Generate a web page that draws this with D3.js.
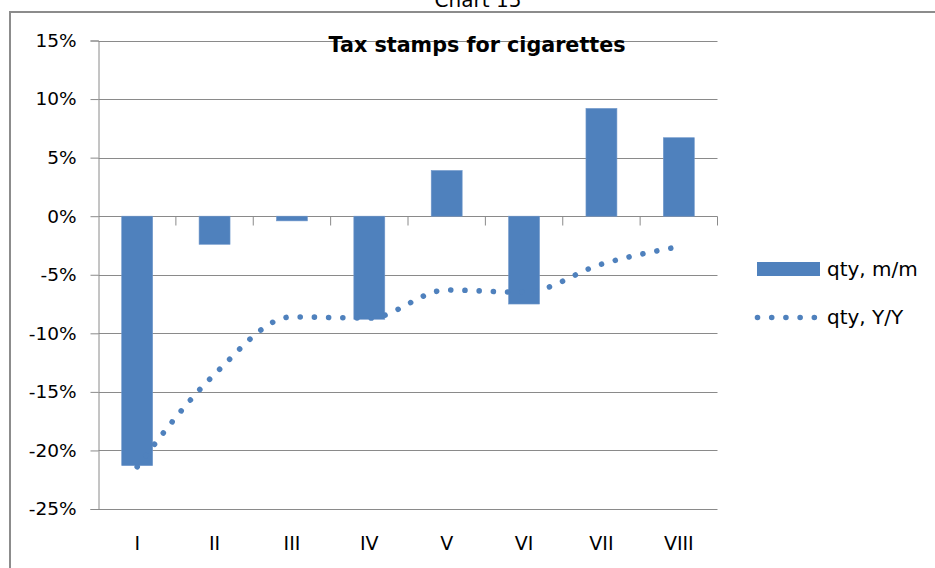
<!DOCTYPE html>
<html>
<head>
<meta charset="utf-8">
<script src="https://cdn.jsdelivr.net/npm/d3@7/dist/d3.min.js"></script>
<style>
  html, body { margin: 0; padding: 0; background: #fff; }
  svg { display: block; }
  text { font-family: "DejaVu Sans", Verdana, sans-serif; fill: #000; }
</style>
</head>
<body>
<svg id="chart" width="935" height="568"></svg>
<script>
// Monthly tax stamp figures, % change
const categories = ["I", "II", "III", "IV", "V", "VI", "VII", "VIII"];
const qtyMoM = [-21.3, -2.4, -0.4, -8.8, 3.9, -7.5, 9.2, 6.7];
const qtyYoY = [-21.4, -13.5, -8.6, -8.7, -6.3, -6.5, -4.1, -2.6];
const yTicks = [15, 10, 5, 0, -5, -10, -15, -20, -25];
const seriesNames = ["qty, m/m", "qty, Y/Y"];

const blue = "#4f81bd";
const grid = "#8a8a8a";

const svg = d3.select("#chart");

// outer frame
svg.append("path")
  .attr("d", "M10,568 V12 H935")
  .attr("fill", "none")
  .attr("stroke", "#8c8c8c")
  .attr("stroke-width", 2);

// caption above the frame (runs off the top edge)
svg.append("text")
  .attr("x", 478).attr("y", 7)
  .attr("text-anchor", "middle")
  .attr("font-size", 20)
  .text("Chart 15");

const plot = { left: 98.5, right: 717.5, top: 40.5, bottom: 509 };

const x = d3.scaleBand()
  .domain(categories)
  .range([plot.left, plot.right])
  .paddingInner(0.6)
  .paddingOuter(0.3);

const xCat = d3.scaleBand()
  .domain(categories)
  .range([plot.left, plot.right])
  .padding(0);

const y = d3.scaleLinear()
  .domain([-25, 15])
  .range([plot.bottom, plot.top]);

// horizontal gridlines
svg.append("g")
  .selectAll("line")
  .data(yTicks)
  .join("line")
  .attr("x1", plot.left).attr("x2", plot.right)
  .attr("y1", d => Math.round(y(d)) + 0.5)
  .attr("y2", d => Math.round(y(d)) + 0.5)
  .attr("stroke", grid)
  .attr("stroke-width", 1);

// value axis
const yAxis = d3.axisLeft(y)
  .tickValues(yTicks)
  .tickSize(8)
  .tickPadding(14)
  .tickFormat(d => d + "%");

const gy = svg.append("g")
  .attr("transform", `translate(${plot.left},0)`)
  .call(yAxis);
gy.select(".domain").attr("stroke", grid);
gy.selectAll(".tick line").attr("stroke", grid);
gy.selectAll(".tick text")
  .attr("font-size", 18.5)
  .attr("font-family", "DejaVu Sans, Verdana, sans-serif")
  .attr("fill", "#000");

// category axis along the zero line (ticks between categories)
const zeroY = Math.round(y(0)) + 0.5;
svg.append("g")
  .selectAll("line")
  .data(categories)
  .join("line")
  .attr("x1", d => xCat(d) + xCat.bandwidth())
  .attr("x2", d => xCat(d) + xCat.bandwidth())
  .attr("y1", zeroY)
  .attr("y2", zeroY + 9)
  .attr("stroke", grid)
  .attr("stroke-width", 1);

// category labels below the plot
svg.append("g")
  .selectAll("text")
  .data(categories)
  .join("text")
  .attr("x", d => xCat(d) + xCat.bandwidth() / 2)
  .attr("y", 550)
  .attr("text-anchor", "middle")
  .attr("font-size", 19)
  .text(d => d);

// m/m bars
svg.append("g")
  .selectAll("rect")
  .data(categories.map((c, i) => ({ c, v: qtyMoM[i] })))
  .join("rect")
  .attr("x", d => x(d.c))
  .attr("width", x.bandwidth())
  .attr("y", d => y(Math.max(0, d.v)))
  .attr("height", d => Math.abs(y(d.v) - y(0)))
  .attr("fill", blue)
  .attr("stroke", "#6f97cb")
  .attr("stroke-width", 0.6);

// Y/Y smoothed dotted line
const line = d3.line()
  .x((d, i) => x(categories[i]) + x.bandwidth() / 2)
  .y(d => y(d))
  .curve(d3.curveMonotoneX);

svg.append("path")
  .datum(qtyYoY)
  .attr("d", line)
  .attr("fill", "none")
  .attr("stroke", blue)
  .attr("stroke-width", 5.6)
  .attr("stroke-linecap", "round")
  .attr("stroke-dasharray", "0.01 14.2");

// title
svg.append("text")
  .attr("x", 477).attr("y", 52)
  .attr("text-anchor", "middle")
  .attr("font-family", "Liberation Sans, Arial, sans-serif")
  .attr("font-weight", "bold")
  .attr("font-size", 22)
  .attr("textLength", 297)
  .attr("lengthAdjust", "spacingAndGlyphs")
  .text("Tax stamps for cigarettes");

// legend
const legend = svg.append("g");
legend.append("rect")
  .attr("x", 757).attr("y", 262)
  .attr("width", 63).attr("height", 14)
  .attr("fill", blue);
legend.append("text")
  .attr("x", 827).attr("y", 276)
  .attr("font-size", 20)
  .text(seriesNames[0]);
legend.append("line")
  .attr("x1", 757.5).attr("x2", 816)
  .attr("y1", 317.5).attr("y2", 317.5)
  .attr("stroke", blue)
  .attr("stroke-width", 5.6)
  .attr("stroke-linecap", "round")
  .attr("stroke-dasharray", "0.01 14.2");
legend.append("text")
  .attr("x", 827).attr("y", 324)
  .attr("font-size", 20)
  .text(seriesNames[1]);
</script>
</body>
</html>
